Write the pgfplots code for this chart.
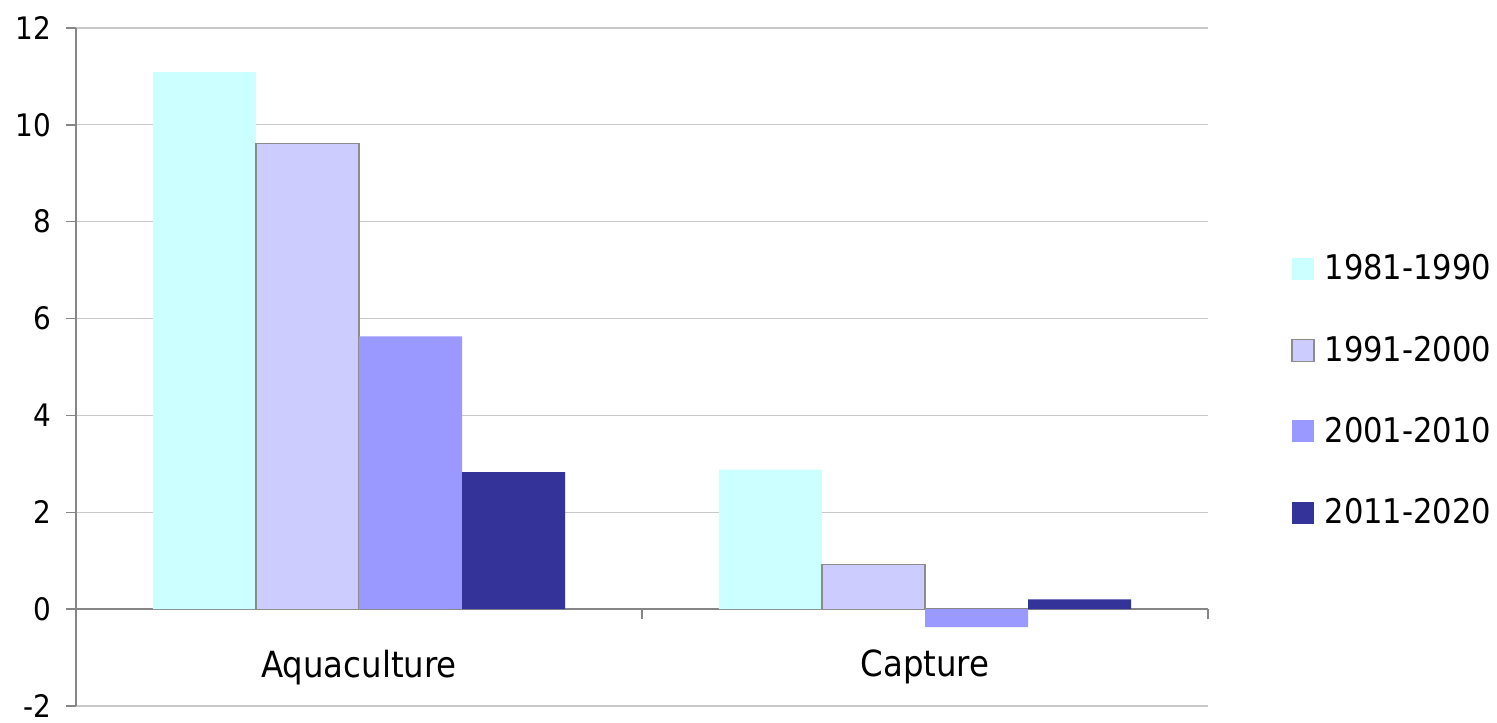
\documentclass[border=0pt]{standalone}
\usepackage{fontspec}
\setmainfont{DejaVu Sans Condensed}
\usepackage{pgfplots}
\pgfplotsset{compat=1.18}
\definecolor{c81}{HTML}{CCFFFF}
\definecolor{c91}{HTML}{CCCCFF}
\definecolor{c01}{HTML}{9999FF}
\definecolor{c11}{HTML}{333399}
\definecolor{axisgray}{HTML}{868686}
\definecolor{gridgray}{HTML}{C8C8C8}
\definecolor{edgegray}{HTML}{8C8C8C}

\begin{document}
\begin{tikzpicture}
\begin{axis}[
  scale only axis, width=566pt, height=339pt,
  xmin=-0.5, xmax=1.5, ymin=-2, ymax=12,
  axis y line=left, axis x line=middle,
  axis line style={-, draw=axisgray, line width=0.7pt},
  ytick={-2,0,...,12},
  ymajorgrids, grid style={gridgray, line width=0.6pt},
  xtick={0,1}, xticklabels={Aquaculture, Capture},
  minor xtick={-0.5,0.5,1.5},
  major x tick style={draw=none},
  tick align=outside,
  major tick length=5pt, minor tick length=5pt,
  tick style={axisgray, line width=0.7pt},
  /pgf/number format/assume math mode=true,
  xticklabel style={anchor=center, yshift=-24pt, font=\fontsize{18}{21}\selectfont},
  yticklabel style={font=\fontsize{15.5}{18}\selectfont, xshift=-4pt},
  ybar=0pt, bar width=0.182,
  legend image code/.code={\path[#1] (0pt,-5.5pt) rectangle (11pt,5.5pt);},
  legend style={at={(1.068,0.465)}, anchor=west, draw=none, fill=none,
    font=\fontsize{17}{20}\selectfont, row sep=20.5pt,
    nodes={inner sep=3pt},
    /tikz/every odd column/.append style={column sep=2pt}},
  legend cell align=left,
]
\addplot[fill=c81, draw=none] coordinates {(0,11.09) (1,2.88)};
\addplot[fill=c91, draw=edgegray, line width=0.6pt] coordinates {(0,9.62) (1,0.92)};
\addplot[fill=c01, draw=none] coordinates {(0,5.63) (1,-0.37)};
\addplot[fill=c11, draw=none] coordinates {(0,2.83) (1,0.20)};
\legend{1981-1990, 1991-2000, 2001-2010, 2011-2020}
\end{axis}
\pgfresetboundingbox
\path[use as bounding box] (-38pt,-8pt) rectangle (710.5pt,353pt);
\end{tikzpicture}
\end{document}
